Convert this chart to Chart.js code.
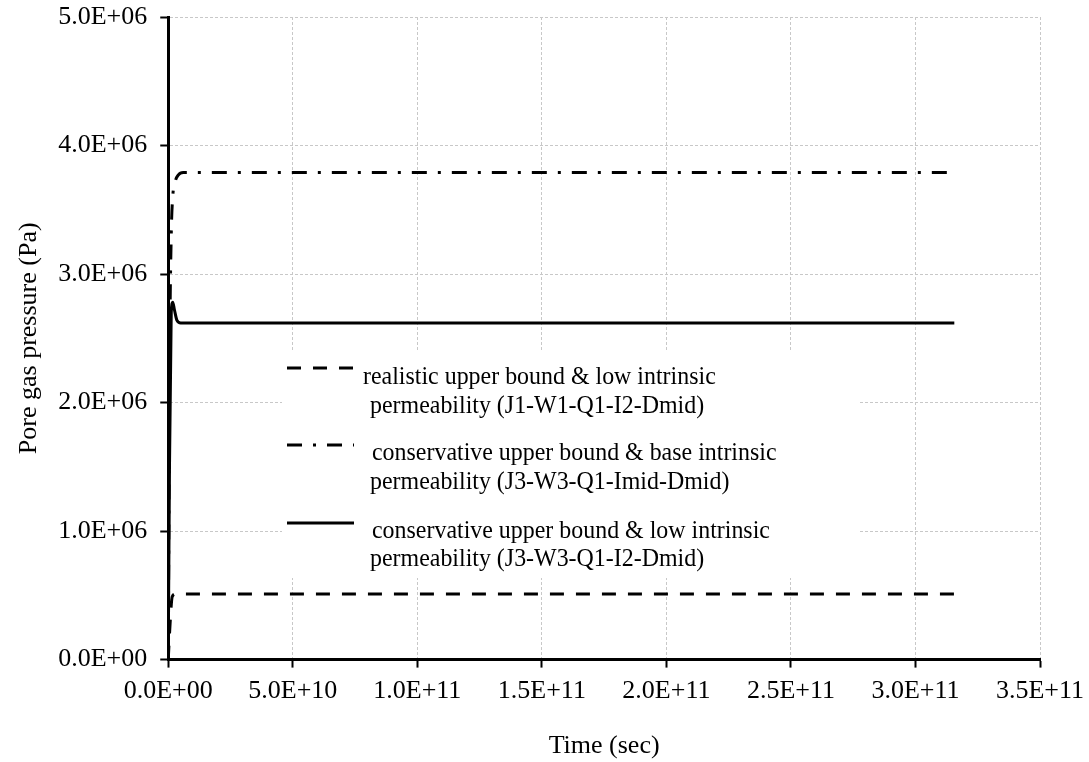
<!DOCTYPE html>
<html>
<head>
<meta charset="utf-8">
<script src="https://cdn.jsdelivr.net/npm/chart.js@4.4.1/dist/chart.umd.min.js"></script>
<style>
  html, body { margin: 0; padding: 0; background: #fff; }
  #wrap { width: 1089px; height: 762px; position: relative; }
</style>
</head>
<body>
<div id="wrap"><canvas id="chart" width="1089" height="762"></canvas></div>
<script>
// pore gas pressure vs time, three cases
const FONT = '"Liberation Serif", "Times New Roman", serif';

const timeRealistic = [0, 8e8, 1.6e9, 3e9, 3.156e11];
const presRealistic = [0, 3.0e5, 4.9e5, 5.1e5, 5.1e5];

const timeConsBase = [0, 6e8, 1.2e9, 1.8e9, 2.8e9, 4e9, 6e9, 3.156e11];
const presConsBase = [0, 2.4e6, 3.3e6, 3.6e6, 3.72e6, 3.77e6, 3.79e6, 3.79e6];

const timeConsLow = [0, 5e8, 1.2e9, 1.8e9, 2.5e9, 3.5e9, 5e9, 3.156e11];
const presConsLow = [0, 1.5e6, 2.7e6, 2.78e6, 2.72e6, 2.64e6, 2.62e6, 2.62e6];

const legendLines = [
  ['realistic upper bound & low intrinsic', 'permeability (J1-W1-Q1-I2-Dmid)'],
  ['conservative upper bound & base intrinsic', 'permeability (J3-W3-Q1-Imid-Dmid)'],
  ['conservative upper bound & low intrinsic', 'permeability (J3-W3-Q1-I2-Dmid)'],
];

const xTicks = [0, 5e10, 1e11, 1.5e11, 2e11, 2.5e11, 3e11, 3.5e11];
const yTicks = [0, 1e6, 2e6, 3e6, 4e6, 5e6];

function pts(xs, ys) {
  return xs.map((x, i) => ({ x: x, y: ys[i] }));
}

// 5.0E+06 style
function sci(v) {
  const s = Number(v).toExponential(1).toUpperCase();
  const m = s.match(/^(-?[\d.]+)E([+-])(\d+)$/);
  if (!m) return s;
  return m[1] + 'E' + m[2] + m[3].padStart(2, '0');
}

const dashes = [
  [14, 12],
  [15, 11, 3, 11],
  [],
];

const datasets = [
  { label: legendLines[0].join(' '), data: pts(timeRealistic, presRealistic), borderDash: dashes[0] },
  { label: legendLines[1].join(' '), data: pts(timeConsBase, presConsBase), borderDash: dashes[1] },
  { label: legendLines[2].join(' '), data: pts(timeConsLow, presConsLow), borderDash: dashes[2] },
].map(d => Object.assign(d, {
  showLine: true,
  borderColor: '#000',
  borderWidth: 3,
  pointRadius: 0,
  fill: false,
  cubicInterpolationMode: 'monotone',
}));

// legend box drawn inside the plot, it hides the grid behind it
const legendRows = [
  { sampleY: 368, textX: 363, base1: 384, base2: 413 },
  { sampleY: 445, textX: 372, base1: 460, base2: 489 },
  { sampleY: 523, textX: 372, base1: 538, base2: 566 },
];

const boxLegend = {
  id: 'boxLegend',
  afterDatasetsDraw(chart) {
    const ctx = chart.ctx;
    ctx.save();
    ctx.fillStyle = '#fff';
    ctx.fillRect(282, 352, 576, 226);
    ctx.strokeStyle = '#000';
    ctx.lineWidth = 3;
    ctx.fillStyle = '#000';
    ctx.textBaseline = 'alphabetic';
    legendLines.forEach((lines, i) => {
      const r = legendRows[i];
      ctx.setLineDash(dashes[i]);
      ctx.beginPath();
      ctx.moveTo(287, r.sampleY);
      ctx.lineTo(354, r.sampleY);
      ctx.stroke();
      // text in the source is a bit narrow, squeeze it sideways
      ctx.save();
      ctx.font = '26px ' + FONT;
      ctx.scale(0.92, 1);
      ctx.fillText(lines[0], r.textX / 0.92, r.base1);
      ctx.fillText(lines[1], 370 / 0.92, r.base2);
      ctx.restore();
    });
    ctx.restore();
  },
};

new Chart(document.getElementById('chart'), {
  type: 'scatter',
  data: { datasets },
  plugins: [boxLegend],
  options: {
    responsive: false,
    animation: false,
    events: [],
    layout: { padding: { top: 0, right: 0, left: 14, bottom: 0 } },
    plugins: { legend: { display: false }, tooltip: { enabled: false } },
    scales: {
      x: {
        type: 'linear',
        min: 0,
        max: 3.5e11,
        afterBuildTicks: s => { s.ticks = xTicks.map(v => ({ value: v })); },
        afterFit: s => { s.paddingRight = 49; },
        grid: { color: '#c8c8c8', lineWidth: 1, tickLength: 8, tickColor: '#000', tickWidth: 2 },
        border: { color: '#000', width: 3, dash: [3, 2] },
        ticks: { color: '#000', font: { family: FONT, size: 26 }, padding: 8, maxRotation: 0, callback: v => sci(v) },
        title: { display: true, text: 'Time (sec)', color: '#000', font: { family: FONT, size: 26 }, padding: { top: 16, bottom: 0 } },
      },
      y: {
        type: 'linear',
        min: 0,
        max: 5e6,
        afterBuildTicks: s => { s.ticks = yTicks.map(v => ({ value: v })); },
        afterFit: s => { s.paddingTop = 17; },
        grid: { color: '#c8c8c8', lineWidth: 1, tickLength: 8, tickColor: '#000', tickWidth: 2 },
        border: { color: '#000', width: 3, dash: [3, 2] },
        ticks: { color: '#000', font: { family: FONT, size: 26 }, padding: 13, callback: v => sci(v) },
        title: { display: true, text: 'Pore gas pressure (Pa)', color: '#000', font: { family: FONT, size: 26 }, padding: { top: 0, bottom: 0 } },
      },
    },
  },
});
</script>
</body>
</html>
